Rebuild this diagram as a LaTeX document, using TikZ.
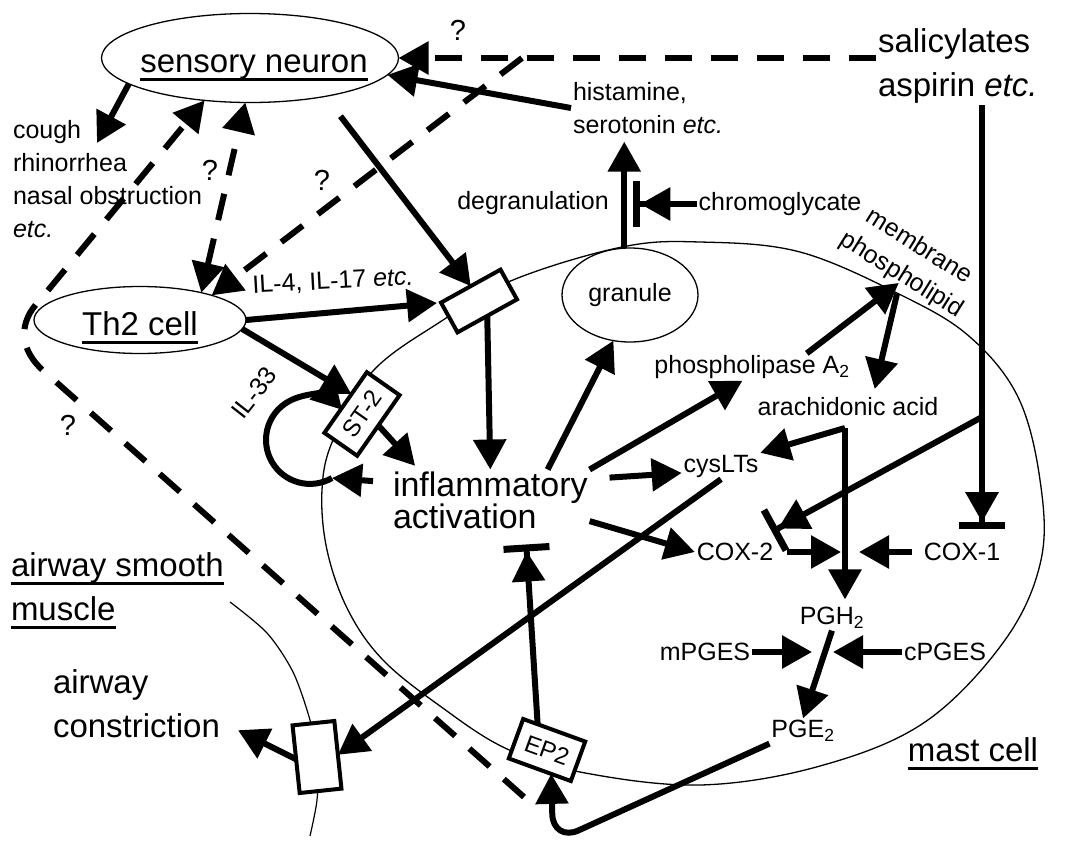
\documentclass[tikz,border=0pt]{standalone}
\usepackage{fontspec}
\setmainfont{Liberation Sans}
\usetikzlibrary{arrows.meta, shapes.geometric}

\newcommand\fbig{\fontsize{33}{44}\selectfont}
\newcommand\fsmall{\fontsize{25}{33}\selectfont}
\newcommand\frec{\fontsize{24}{28}\selectfont}
\newcommand\ultext[1]{\setbox0\hbox{#1}\rlap{\rule[-8.5pt]{\wd0}{3pt}}\box0}

\begin{document}
\begin{tikzpicture}[
        x=1pt, y=-1pt,
        >={Triangle[length=30pt,width=32pt]},
        every node/.style={inner sep=2pt, outer sep=0pt},
        cellell/.style={ellipse, draw, line width=1.3pt},
        recep/.style={draw, fill=white, line width=4pt, inner sep=0pt, font=\frec},
        txt/.style={font=\fsmall},
        qm/.style={font=\fontsize{29}{33}\selectfont},
        big/.style={font=\fbig, align=left},
        act/.style={->, line width=6pt},
        unk/.style={act, dash pattern=on 27pt off 19pt},
        unkk/.style={<->, line width=6pt, dash pattern=on 27pt off 19pt},
        block/.style={-{Triangle[length=30pt,width=32pt,sep=0pt]Bar[width=46pt,line width=7pt]}, line width=6pt}]

    \useasboundingbox (0,0) rectangle (1067,841);

    \draw [line width=1.3pt] plot [smooth cycle, tension=0.6] coordinates {
        (622,247) (700,242) (800,252) (903,296) (970,337) (1018,397) (1040,480)
        (1041,560) (1005,640) (925,722) (820,766) (700,785) (580,772) (505,748)
        (440,706) (383,660) (348,610) (327,550) (322,490) (333,440) (372,372)
        (440,322) (513,280)};
    \draw [line width=1.2pt] plot [smooth] coordinates {
        (230,602) (267,633) (293,672) (310,720) (318,760) (317,800) (310,836)};

    \node [cellell, minimum width=297pt, minimum height=89pt,
           label={[font=\fbig, xshift=4pt, yshift=-10pt]center:\ultext{sensory neuron}}] (sn) at (250,58) {};
    \node [cellell, minimum width=212pt, minimum height=67pt,
           label={[font=\fbig, yshift=-7.5pt]center:\ultext{Th2 cell}}] (th2) at (140,320) {};
    \node [cellell, minimum width=136pt, minimum height=94pt, font=\fsmall] (gran) at (630,295) {granule};

    \node [recep, minimum width=68pt, minimum height=34pt, rotate=29] (rIL) at (479,301) {};
    \node [recep, minimum width=74pt, minimum height=40pt, rotate=55] (rST) at (362,414) {ST-2};
    \node [recep, minimum width=66pt, minimum height=42pt, rotate=-20] (rEP) at (547,750) {EP2};
    \node [recep, minimum width=42pt, minimum height=68pt, rotate=6] (rAW) at (317,757) {};

    \node [big, anchor=west] (sal) at (876,66) {salicylates\\aspirin \textit{etc.}};
    \node [txt, align=left, anchor=west] (hist) at (571,108) {histamine,\\serotonin \textit{etc.}};
    \node [txt, align=left, anchor=west] (sympt) at (11,179) {cough\\rhinorrhea\\nasal obstruction\\\textit{etc.}};
    \node [txt] (deg) at (533,203) {degranulation};
    \node [txt] (chrom) at (780,204) {chromoglycate};
    \node [txt, align=center, rotate=-32] (memb) at (910,261) {membrane\\phospholipid};
    \node [txt] (pla) at (752,367) {phospholipase A\textsubscript{2}};
    \node [txt] (arach) at (848,407) {arachidonic acid};
    \node [txt] (cys) at (721,466) {cysLTs};
    \node [txt] (cox2) at (735,552) {COX-2};
    \node [txt] (cox1) at (962,552) {COX-1};
    \node [txt] (pgh) at (832,618) {PGH\textsubscript{2}};
    \node [txt] (mpges) at (705,652) {mPGES};
    \node [txt] (cpges) at (945,652) {cPGES};
    \node [txt] (pge) at (803,731) {PGE\textsubscript{2}};
    \node [font=\fbig] (mast) at (973,754) {\ultext{mast cell}};
    \node [font=\fontsize{34}{32}\selectfont, align=left, anchor=west] (infl) at (391,500) {inflammatory\\activation};
    \node [big, anchor=west] (asm) at (9,591) {\ultext{airway smooth}\\\ultext{muscle}};
    \node [big, anchor=west] (acon) at (51,704) {airway\\constriction};
    \node [txt, rotate=3] (il4) at (333,282) {IL-4, IL-17 \textit{etc.}};
    \node [txt, rotate=52] (il33) at (254,393) {IL-33};
    \node [qm] (q1) at (458,30) {?};
    \node [qm] (q2) at (210,170) {?};
    \node [qm] (q3) at (322,180) {?};
    \node [qm] (q4) at (68,425) {?};

    \coordinate (symp) at (97,143);
    \coordinate (salbr) at (522,58);
    \coordinate (salj) at (982,417);
    \coordinate (aa) at (845,428);
    \coordinate (loop) at (332,478);
    \coordinate (ep2q) at (524,797);

    % unknown routes
    \path (sal.west |- sn.east) edge [unk] (sn.east)
          (salbr) edge [unk] (th2.19)
          (th2.24) edge [unkk] (sn.264);
    \draw [unk] (ep2q) -- (46,373) .. controls (18,350) and (18,322) .. (40,300) -- (sn.223);

    \path (sn.192) edge [act] (symp)
          (sn.-27) edge [act, shorten <=25pt] (rIL.north)
          (hist.west) edge [act] (sn.353)
          (th2.east) edge [act, shorten >=4pt] (rIL.north west)
          (th2.-5) edge [act] (rST.63)
          (rIL.south) edge [act] (infl.north)
          (rST.south) edge [act, shorten >=5pt] (infl.157)
          (infl.170) edge [act, shorten <=18pt] (loop)
          (infl.28) edge [act] (gran.250)
          (infl.north east) edge [act] (pla.235)
          (infl.12) edge [act, shorten <=20pt] (cys.190)
          (infl.-12) edge [act] (cox2.west)
          (gran.97) edge [act, shorten >=6pt] (gran.97 |- hist.south)
          (pla.14) edge [act, shorten >=-6pt] (memb.south)
          (memb.south) ++(3,7) edge [act, shorten >=7pt] (arach.24)
          (aa) edge [act] (cys.north east)
          (aa) edge [act, shorten >=6pt] (aa |- pgh.north)
          (cox2.east) edge [act, shorten <=12pt, shorten >=4pt] (aa |- cox2.east)
          (cox1.west) edge [act, shorten <=10pt, shorten >=14pt] (aa |- cox1.west)
          (pgh.south) edge [act] (pge.north)
          (mpges.east) edge [act, shorten >=20pt] (pgh.south |- mpges.east)
          (cpges.west) edge [act, shorten >=1pt] (pgh.south |- cpges.west)
          (cys.south) edge [act] (rAW.east)
          (rAW.west) edge [act, shorten >=18pt] (acon.-12);
    \draw [act] (loop) arc [start angle=-60, end angle=-317, radius=44pt];
    \draw [act, rounded corners=28pt] (pge.south west) -- (553,842) -- (rEP.-60);

    % inhibition
    \path (chrom.west) edge [block, shorten >=9pt] (chrom.west -| gran.97)
          (salj |- sal.south) edge [block, shorten >=12pt] (salj |- cox1.north)
          (salj) edge [block, shorten >=42pt] (cox2.center)
          (rEP.130) edge [block, shorten >=14pt] (infl.-41);
\end{tikzpicture}
\end{document}
